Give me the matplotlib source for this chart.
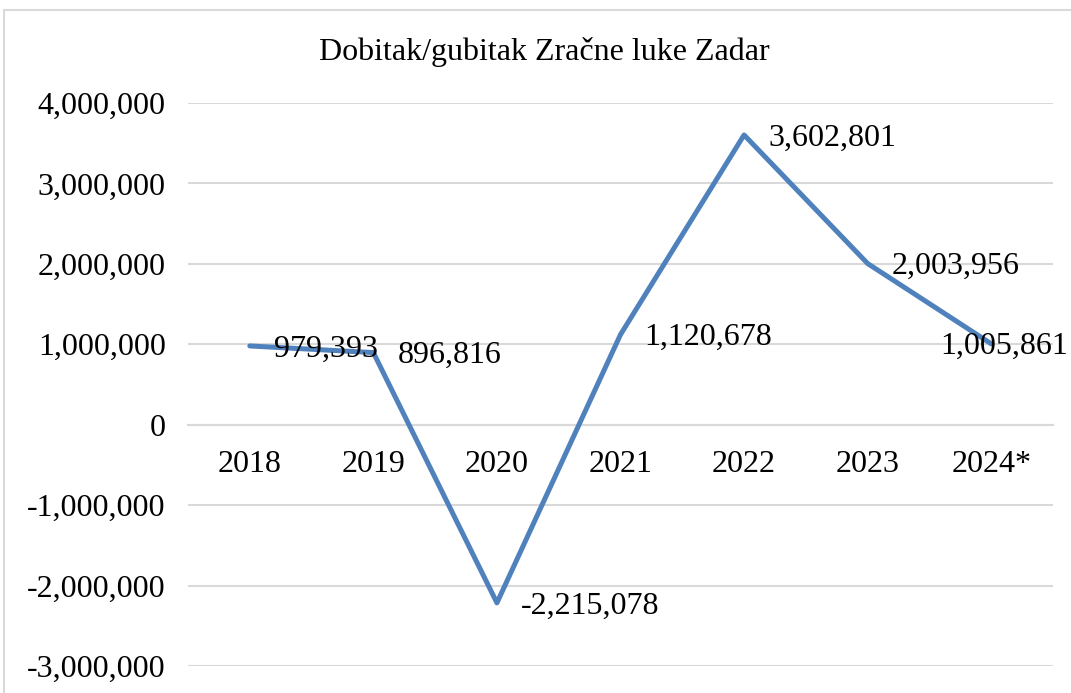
import matplotlib
matplotlib.use("Agg")
import matplotlib.pyplot as plt
from matplotlib.patches import Rectangle

# --- podaci ---
godine = ["2018", "2019", "2020", "2021", "2022", "2023", "2024*"]
dobit = [979393, 896816, -2215078, 1120678, 3602801, 2003956, 1005861]
y_ticks = [-3000000, -2000000, -1000000, 0, 1000000, 2000000, 3000000, 4000000]

plt.rcParams['font.family'] = ['Liberation Serif', 'DejaVu Serif']

W, H = 1071, 693
fig = plt.figure(figsize=(W / 100, H / 100), dpi=100)

# okvir grafikona (Excel stil)
fig.patches.append(Rectangle((4 / W, -0.1), 1.2, 1.1 - 10 / H, transform=fig.transFigure,
                             fill=False, edgecolor='#d9d9d9', linewidth=1.5))

ax = fig.add_axes([188 / W, 1 - 666 / H, (1053 - 188) / W, (666 - 103) / H])
x = list(range(len(godine)))
ax.plot(x, dobit, color='#4f81bd', linewidth=3.6, solid_capstyle='round', zorder=3)

for s in ['top', 'right', 'left']:
    ax.spines[s].set_visible(False)
ax.spines['bottom'].set_position(('data', 0))
ax.spines['bottom'].set_color('#d9d9d9')
ax.spines['bottom'].set_linewidth(1.5)

ax.set_xlim(-0.5, len(godine) - 0.5)
ax.set_ylim(y_ticks[0], y_ticks[-1])
ax.set_yticks(y_ticks)
ax.set_yticklabels([f"{v:,}" for v in y_ticks])
ax.set_xticks(x)
ax.set_xticklabels(godine)
ax.tick_params(axis='both', labelsize=23, length=0)
ax.tick_params(axis='y', pad=16)
ax.tick_params(axis='x', pad=18)
ax.grid(axis='y', color='#d9d9d9', linewidth=1.5)
ax.set_axisbelow(True)

# oznake vrijednosti desno od točaka
for i, v in enumerate(dobit):
    if i == len(dobit) - 1:
        ax.annotate(f"{v:,}", (i, v), xytext=(77, -3), textcoords='offset pixels',
                    ha='right', va='center', fontsize=23, zorder=4)
    else:
        ax.annotate(f"{v:,}", (i, v), xytext=(24, -3), textcoords='offset pixels',
                    ha='left', va='center', fontsize=23, zorder=4)

fig.text(544 / W, 1 - 60 / H, "Dobitak/gubitak Zračne luke Zadar", ha='center', va='baseline',
         fontsize=23)

fig.savefig("out.png", dpi=100)
